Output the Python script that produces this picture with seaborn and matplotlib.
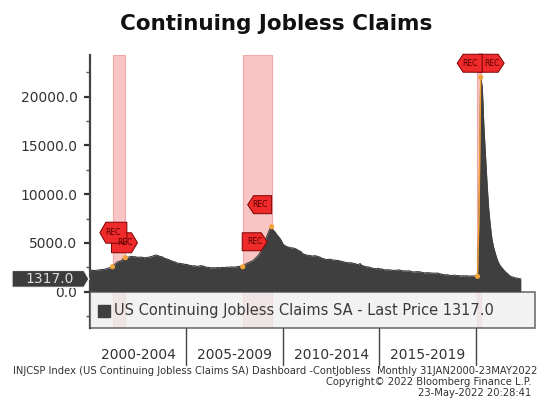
import numpy as np
import pandas as pd
import matplotlib
matplotlib.use("Agg")
import matplotlib.pyplot as plt
import matplotlib.transforms as mtransforms
from matplotlib.patches import Polygon, Rectangle
import seaborn as sns

# Monthly US continuing jobless claims, seasonally adjusted (thousands)
claims_2000 = [2200, 2210, 2180, 2170, 2200, 2230, 2250, 2260, 2280, 2300, 2350, 2400]
claims_2001 = [2450, 2500, 2560, 2750, 2900, 3050, 3100, 3150, 3250, 3500, 3490, 3550]
claims_2002 = [3550, 3600, 3620, 3580, 3600, 3550, 3520, 3560, 3530, 3520, 3480, 3500]
claims_2003 = [3520, 3560, 3600, 3650, 3720, 3760, 3720, 3650, 3600, 3580, 3450, 3400]
claims_2004 = [3350, 3300, 3200, 3150, 3080, 3050, 2950, 2920, 2900, 2880, 2850, 2800]
claims_2005 = [2800, 2760, 2700, 2680, 2650, 2660, 2620, 2600, 2640, 2680, 2650, 2600]
claims_2006 = [2520, 2500, 2470, 2460, 2450, 2470, 2450, 2480, 2470, 2460, 2500, 2480]
claims_2007 = [2480, 2520, 2500, 2530, 2550, 2540, 2520, 2560, 2580, 2590, 2620, 2560]
claims_2008 = [2750, 2850, 2950, 3000, 3100, 3150, 3300, 3450, 3600, 3800, 4050, 4450]
claims_2009 = [4700, 5100, 5700, 6100, 6500, 6670, 6300, 6150, 5900, 5700, 5500, 5250]
claims_2010 = [4900, 4750, 4650, 4600, 4550, 4500, 4500, 4450, 4400, 4300, 4200, 4150]
claims_2011 = [3950, 3850, 3800, 3750, 3700, 3720, 3650, 3680, 3700, 3650, 3600, 3550]
claims_2012 = [3450, 3400, 3350, 3300, 3300, 3330, 3320, 3250, 3250, 3200, 3220, 3180]
claims_2013 = [3150, 3100, 3050, 3000, 2990, 2960, 2980, 2950, 2900, 2880, 2800, 2780]
claims_2014 = [2900, 2700, 2650, 2600, 2550, 2550, 2500, 2450, 2400, 2380, 2350, 2400]
claims_2015 = [2350, 2350, 2300, 2250, 2250, 2250, 2250, 2230, 2200, 2180, 2200, 2200]
claims_2016 = [2250, 2200, 2150, 2150, 2140, 2130, 2140, 2130, 2060, 2030, 2030, 2060]
claims_2017 = [2050, 2050, 2000, 1970, 1930, 1950, 1950, 1950, 1920, 1900, 1910, 1900]
claims_2018 = [1920, 1870, 1830, 1780, 1750, 1730, 1750, 1720, 1700, 1650, 1690, 1700]
claims_2019 = [1650, 1660, 1630, 1620, 1640, 1630, 1640, 1620, 1600, 1620, 1610, 1630]
claims_2020 = [1600, 1580, 8000, 22000, 21000, 17000, 14000, 11000, 8500, 6800, 5400, 4600]
claims_2021 = [4000, 3450, 3000, 2700, 2500, 2300, 2100, 1950, 1800, 1650, 1550, 1500]
claims_2022 = [1450, 1400, 1370, 1350, 1317]

last_price = 1317.0

# NBER recessions (first and last month)
rec_start = ["2001-03", "2007-12", "2020-02"]
rec_end = ["2001-11", "2009-06", "2020-04"]

block_labels = ["2000-2004", "2005-2009", "2010-2014", "2015-2019"]
block_edges = [2000, 2005, 2010, 2015, 2020]

y_major = [0, 5000, 10000, 15000, 20000]

series_name = "US Continuing Jobless Claims SA - Last Price"
title = "Continuing Jobless Claims"
footer_1 = ("INJCSP Index (US Continuing Jobless Claims SA) Dashboard -ContJobless  "
            "Monthly 31JAN2000-23MAY2022")
footer_2 = "Copyright\u00a9 2022 Bloomberg Finance L.P."
footer_3 = "23-May-2022 20:28:41"

# ---------------------------------------------------------------------------
values = np.array(claims_2000 + claims_2001 + claims_2002 + claims_2003 + claims_2004
                  + claims_2005 + claims_2006 + claims_2007 + claims_2008 + claims_2009
                  + claims_2010 + claims_2011 + claims_2012 + claims_2013 + claims_2014
                  + claims_2015 + claims_2016 + claims_2017 + claims_2018 + claims_2019
                  + claims_2020 + claims_2021 + claims_2022, dtype=float)
months = pd.date_range("2000-01-01", periods=len(values), freq="MS")
xdec = months.year + (months.month - 1) / 12.0
df = pd.DataFrame({"t": xdec, "claims": values})


def to_dec(ym):
    d = pd.Timestamp(ym + "-01")
    return d.year + (d.month - 1) / 12.0


def value_at(ym):
    return float(df.loc[np.isclose(df.t, to_dec(ym)), "claims"].iloc[0])


sns.set_theme(style="white")
plt.rcParams["font.family"] = ["DejaVu Sans"]

DPI = 100
fig = plt.figure(figsize=(5.39, 4.0), dpi=DPI, facecolor="white")
W, H = 539, 400
ax_left, ax_right, ax_top, ax_bot = 90, 535, 55, 328
ax = fig.add_axes([ax_left / W, 1 - ax_bot / H, (ax_right - ax_left) / W, (ax_bot - ax_top) / H])
ax.set_facecolor("white")

ax.set_xlim(2000.0, 2000.0 + (ax_right - 90.5) / 19.27)
ax.set_ylim(-3720, 24280)

# recession bands
for s, e in zip(rec_start, rec_end):
    ax.axvspan(to_dec(s), to_dec(e), facecolor="#f8c4c4", edgecolor="#f2a6a6",
               lw=0.8, zorder=0.5)

# the series as a filled area
ax.fill_between(df.t, 0, df.claims, color="#3f3f3f", lw=0, zorder=2)
sns.lineplot(data=df, x="t", y="claims", ax=ax, color="#3f3f3f", lw=0.8, zorder=2.1)

# the short 2020 recession is traced in orange
m = (df.t >= to_dec(rec_start[-1]) - 1e-6) & (df.t <= to_dec(rec_end[-1]) + 1e-6)
ax.plot(df.t[m], df.claims[m], color="#f0a030", lw=1.0, zorder=3)

# recession start/end markers
pts_x = [to_dec(d) for d in rec_start + rec_end]
pts_y = [value_at(d) for d in rec_start + rec_end]
ax.scatter(pts_x, pts_y, s=14, color="#f2a33a", edgecolor="none", zorder=4)


def rec_tag(ym, pointing, dx, dy, w=25, h=18, tip=6):
    x, y = to_dec(ym), value_at(ym)
    hw, hh = w / 2, h / 2
    if pointing == "left":
        verts = [(-hw, 0), (-hw + tip, hh), (hw, hh), (hw, -hh), (-hw + tip, -hh)]
    else:
        verts = [(hw, 0), (hw - tip, hh), (-hw, hh), (-hw, -hh), (hw - tip, -hh)]
    verts = [((vx + dx) / DPI, (vy + dy) / DPI) for vx, vy in verts]
    trans = fig.dpi_scale_trans + mtransforms.ScaledTranslation(x, y, ax.transData)
    ax.add_patch(Polygon(verts, closed=True, transform=trans, facecolor="#ee2a2a",
                         edgecolor="#7a0000", lw=0.7, zorder=6, clip_on=False))
    ax.annotate("REC", (x, y), xytext=(dx * 72 / DPI, dy * 72 / DPI),
                textcoords="offset points", ha="center", va="center",
                fontsize=5.5, color="#5a0000", zorder=7, annotation_clip=False)


tag_layout = [
    ("2001-03", "right", 12, 24, 26, 20),
    ("2001-11", "left", -12, 25, 27, 21),
    ("2007-12", "right", 12, 25, 25, 18),
    ("2009-06", "left", -12, 22, 24, 18),
    ("2020-04", "right", 11, 14, 25, 18),
    ("2020-04", "left", -11, 14, 25, 18),
]
for ym, pointing, dx, dy, w, h in tag_layout:
    rec_tag(ym, pointing, dx, dy, w, h)

# legend strip under the zero line
blend = mtransforms.blended_transform_factory(ax.transAxes, ax.transData)
ylo = ax.get_ylim()[0]
ax.add_patch(Rectangle((0, ylo), 1, -ylo, transform=blend, facecolor="#efefef",
                       alpha=0.78, edgecolor="#4a4a4a", lw=1.2, zorder=8, clip_on=False))
ax.scatter([(104 - ax_left) / (ax_right - ax_left)], [-1950], transform=blend,
           marker="s", s=66, color="#3f3f3f", zorder=9, clip_on=False)
ax.text((114 - ax_left) / (ax_right - ax_left), -1950,
        f"{series_name} {last_price:.1f}", transform=blend,
        ha="left", va="center", fontsize=10.5, color="#3a3a3a", zorder=9)

# y axis
ax.set_yticks(y_major)
ax.set_yticklabels([f"{v:.1f}" for v in y_major])
ax.set_yticks(np.arange(-2500, 24000, 2500), minor=True)
ax.tick_params(axis="y", which="major", direction="out", length=4, width=1.6,
               color="#333333", pad=5, labelsize=10, labelcolor="#333333", left=True)
ax.tick_params(axis="y", which="minor", direction="out", length=3, width=1.0,
               color="#555555", left=True)
ax.set_xticks([])
ax.set_xlabel("")
ax.set_ylabel("")
for side in ["top", "right", "bottom"]:
    ax.spines[side].set_visible(False)
ax.spines["left"].set_color("#444444")
ax.spines["left"].set_linewidth(1.6)

# last value tag on the y axis
tx = fig.dpi_scale_trans + mtransforms.ScaledTranslation(0, last_price, blend)
tag = [(-78, 8.5), (-6, 8.5), (-1, 0), (-6, -8.5), (-78, -8.5)]
ax.add_patch(Polygon([(a / DPI, b / DPI) for a, b in tag], closed=True, transform=tx,
                     facecolor="#3c3c3c", edgecolor="#f4f4f4", lw=1.0, zorder=10,
                     clip_on=False))
ax.annotate(f"{last_price:.1f}", (0, last_price), xycoords=blend,
            xytext=(-40 * 72 / DPI, 0), textcoords="offset points", ha="center",
            va="center", fontsize=10, color="#dddddd", zorder=11, annotation_clip=False)

# five-year blocks below the chart
xt_blend = mtransforms.blended_transform_factory(ax.transData, ax.transAxes)
for xe in block_edges[1:]:
    ax.plot([xe, xe], [0, -0.135], transform=xt_blend, color="#444444", lw=1.0,
            clip_on=False)
for lab, a, b in zip(block_labels, block_edges[:-1], block_edges[1:]):
    ax.text((a + b) / 2, -0.098, lab, transform=xt_blend, ha="center", va="center",
            fontsize=10, color="#333333")

fig.text(276 / W, 1 - 24 / H, title, ha="center", va="center", fontsize=15.5,
         fontweight="bold", color="#111111")
fig.text(13 / W, 1 - 371 / H, footer_1, ha="left", va="center", fontsize=7.2,
         color="#333333")
fig.text(531 / W, 1 - 382 / H, footer_2, ha="right", va="center", fontsize=7.2,
         color="#333333")
fig.text(531 / W, 1 - 393 / H, footer_3, ha="right", va="center", fontsize=7.2,
         color="#333333")

fig.savefig("out.png", dpi=DPI, facecolor="white")
